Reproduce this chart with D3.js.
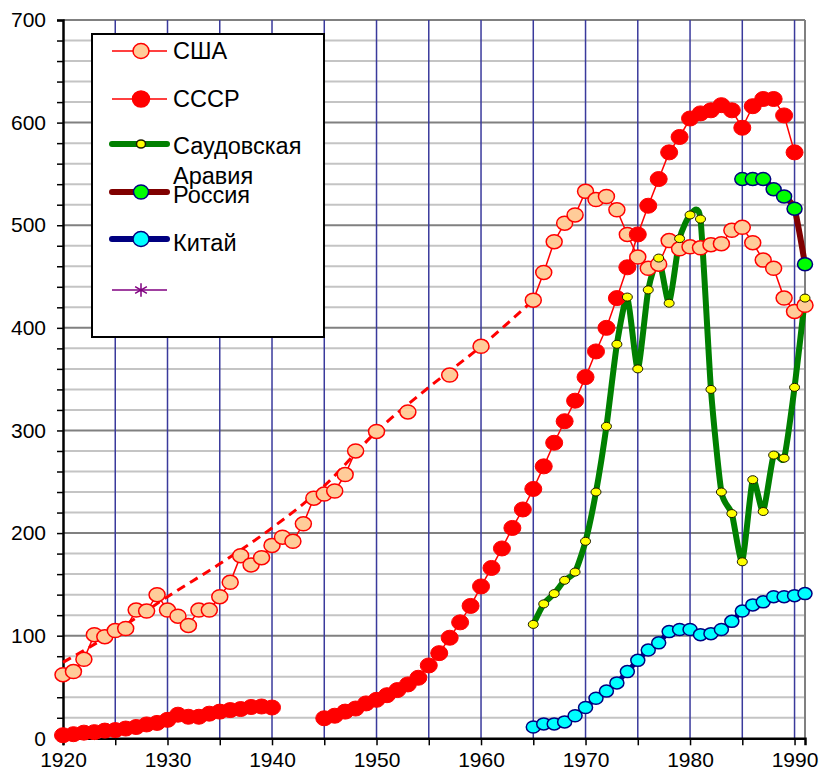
<!DOCTYPE html>
<html>
<head>
<meta charset="utf-8">
<script src="https://cdn.jsdelivr.net/npm/d3@7"></script>
<style>
  body { margin: 0; background: #fff; }
  svg text { font-family: "Liberation Sans", Arial, sans-serif; }
</style>
</head>
<body>
<div id="my_dataviz"></div>
<script>

// years on the x axis, one slot per year
var years = d3.range(1920, 1992);

var usaValues = [62, 65, 77, 101, 99, 105, 107, 125, 124, 140,
  125, 119, 110, 125, 125, 138, 152, 178, 169, 176,
  188, 196, 192, 209, 234, 238, 241, 257, 280, null,
  299, null, null, 318, null, null, null, 354, null, null,
  382, null, null, null, null, 427, 454, 484, 502, 510,
  533, 525, 528, 515, 491, 469, 458, 462, 485, 477,
  479, 478, 481, 482, 495, 498, 483, 466, 458, 429,
  416, 422];

var ussrValues = [3, 4, 5.5, 6, 7.5, 8, 9.5, 11, 13.5, 15,
  18, 23, 21, 21, 24, 26, 27.5, 28.5, 30.5, 31,
  30, null, null, null, null, 19.5, 22, 26, 29, 34,
  37.5, 42, 47, 52.5, 59, 71, 83, 98, 113, 129,
  148, 166, 185, 205, 223, 243, 265, 288, 309, 329,
  352, 377, 400, 429, 459, 491, 519, 545, 571, 586,
  604, 609, 612, 617, 612, 595, 616, 623, 623, 607,
  571, null];

var saudiYears = d3.range(1965, 1992);
var saudiValues = [111, 131, 141, 154, 162, 192, 240, 304, 384, 430,
  360, 437, 468, 424, 487, 510, 506, 340, 240, 219,
  172, 252, 221, 276, 273, 342, 429];

var chinaYears = d3.range(1965, 1992);
var chinaValues = [11, 14, 14, 16, 22, 30, 39, 46, 54, 65,
  76, 86, 93, 104, 106, 106, 101, 102, 106, 114,
  124, 130, 133, 138, 138, 139, 141];

var russiaYears = [1985, 1986, 1987, 1988, 1989, 1990, 1991];
var russiaValues = [545, 545, 545, 535, 528, 516, 462];

// dashed trend through the USA points
var trendYears = [1920, 1925, 1930, 1935, 1940, 1945, 1950, 1955, 1960, 1965];
var trendValues = [74, 104, 138, 170, 205, 246, 299, 342, 382, 427];

// small pink dashed piece near the bottom
var pinkYears = [1923, 1926];
var pinkValues = [0.5, 5.5];

var legendNames = ["США", "СССР", "Саудовская\nАравия", "Россия", "Китай", ""];
var xTickYears = [1920, 1930, 1940, 1950, 1960, 1970, 1980, 1990];
var yTickValues = [0, 100, 200, 300, 400, 500, 600, 700];

var width = 820, height = 776;
var plotLeft = 63, plotRight = 805, plotTop = 20, plotBottom = 738.3;

var svg = d3.select("#my_dataviz")
  .append("svg")
    .attr("width", width)
    .attr("height", height);

var x = d3.scaleLinear().domain([1920, 1991]).range([plotLeft, plotRight]);
var y = d3.scaleLinear().domain([0, 700]).range([plotBottom, plotTop]);

// horizontal grid, every 20
var grid = svg.append("g");
grid.selectAll("line.h")
  .data(d3.range(20, 701, 20))
  .enter()
  .append("line")
    .attr("x1", plotLeft).attr("x2", plotRight)
    .attr("y1", function(d) { return y(d); })
    .attr("y2", function(d) { return y(d); })
    .attr("stroke", function(d) { return d % 100 == 0 ? "#808080" : "#c4c4c4"; })
    .attr("stroke-width", 2);

// vertical grid, every 5 years
grid.selectAll("line.v")
  .data(d3.range(1925, 1991, 5))
  .enter()
  .append("line")
    .attr("x1", function(d) { return x(d); })
    .attr("x2", function(d) { return x(d); })
    .attr("y1", plotTop).attr("y2", plotBottom)
    .attr("stroke", "#3a3a9c")
    .attr("stroke-width", 1.5);

// right border
svg.append("line")
  .attr("x1", plotRight).attr("x2", plotRight).attr("y1", plotTop).attr("y2", plotBottom)
  .attr("stroke", "#808080").attr("stroke-width", 2);

// axes
var yAxis = svg.append("g")
  .attr("transform", "translate(" + plotLeft + ",0)")
  .call(d3.axisLeft(y).tickValues(d3.range(0, 701, 20)).tickSize(6)
    .tickFormat(function(d) { return yTickValues.indexOf(d) >= 0 ? d : ""; }));
yAxis.select(".domain").attr("stroke", "#000").attr("stroke-width", 2.5);
yAxis.selectAll(".tick line").attr("stroke", "#000").attr("stroke-width", 1.5);
yAxis.selectAll(".tick text")
  .attr("x", -17)
  .style("font-size", "21px")
  .attr("fill", "#000");

var xAxis = svg.append("g")
  .attr("transform", "translate(0," + plotBottom + ")")
  .call(d3.axisBottom(x).tickValues(d3.range(1920, 1991, 5)).tickSize(7)
    .tickFormat(function(d) { return xTickYears.indexOf(d) >= 0 ? d : ""; }));
xAxis.select(".domain").attr("stroke", "#000").attr("stroke-width", 2.5);
xAxis.selectAll(".tick line").attr("stroke", "#000").attr("stroke-width", 1.5);
xAxis.selectAll(".tick text")
  .attr("y", 14)
  .style("font-size", "21px")
  .attr("fill", "#000");

function pairs(xs, vs) {
  return xs.map(function(d, i) { return {year: d, value: vs[i]}; });
}

var straight = d3.line()
  .defined(function(d) { return d.value != null; })
  .x(function(d) { return x(d.year); })
  .y(function(d) { return y(d.value); });

// excel-like smoothed line, a bit tighter than catmull-rom
var smooth = d3.line()
  .curve(d3.curveCardinal.tension(0.4))
  .x(function(d) { return x(d.year); })
  .y(function(d) { return y(d.value); });

var usa = pairs(years, usaValues);
var ussr = pairs(years, ussrValues);
var saudi = pairs(saudiYears, saudiValues);
var china = pairs(chinaYears, chinaValues);
var russia = pairs(russiaYears, russiaValues);

// lines first
svg.append("path").datum(pairs(pinkYears, pinkValues))
  .attr("d", straight).attr("fill", "none")
  .attr("stroke", "#ff99cc").attr("stroke-width", 2.5).attr("stroke-dasharray", "7,4");

svg.append("path").datum(pairs(trendYears, trendValues))
  .attr("d", straight.curve(d3.curveMonotoneX)).attr("fill", "none")
  .attr("stroke", "#ff0000").attr("stroke-width", 3).attr("stroke-dasharray", "9,6");
straight.curve(d3.curveLinear);

svg.append("path").datum(usa)
  .attr("d", straight).attr("fill", "none")
  .attr("stroke", "#ff0000").attr("stroke-width", 1.5);

svg.append("path").datum(ussr)
  .attr("d", straight).attr("fill", "none")
  .attr("stroke", "#ff0000").attr("stroke-width", 1.5);

svg.append("path").datum(saudi)
  .attr("d", smooth).attr("fill", "none")
  .attr("stroke", "#008000").attr("stroke-width", 6).attr("stroke-linejoin", "round");

svg.append("path").datum(russia)
  .attr("d", smooth).attr("fill", "none")
  .attr("stroke", "#800000").attr("stroke-width", 6);

svg.append("path").datum(china)
  .attr("d", smooth).attr("fill", "none")
  .attr("stroke", "#000080").attr("stroke-width", 5);

// markers
function markers(data, rx, ry, fill, stroke, sw) {
  svg.append("g")
    .selectAll("ellipse")
    .data(data.filter(function(d) { return d.value != null; }))
    .enter()
    .append("ellipse")
      .attr("cx", function(d) { return x(d.year); })
      .attr("cy", function(d) { return y(d.value); })
      .attr("rx", rx).attr("ry", ry)
      .attr("fill", fill)
      .attr("stroke", stroke)
      .attr("stroke-width", sw);
}

markers(usa, 8, 7, "#ffcc99", "#ff0000", 1.5);
markers(ussr, 8.5, 7.5, "#ff0000", "#ff0000", 1);
markers(saudi, 5, 4, "#ffff00", "#1a1a00", 1);
markers(russia, 7.5, 6.5, "#00ff00", "#000080", 1.5);
markers(china, 7, 6, "#00ffff", "#000080", 1.5);

// legend
var legendStyles = [
  {line: "#ff0000", lw: 1.5, fill: "#ffcc99", stroke: "#ff0000", rx: 8, ry: 7.5, ly: 51},
  {line: "#ff0000", lw: 1.5, fill: "#ff0000", stroke: "#ff0000", rx: 8.5, ry: 8, ly: 99},
  {line: "#008000", lw: 6, fill: "#ffff00", stroke: "#1a1a00", rx: 4.5, ry: 4, ly: 144},
  {line: "#800000", lw: 6, fill: "#00ff00", stroke: "#000080", rx: 7.5, ry: 7, ly: 192},
  {line: "#000080", lw: 6, fill: "#00ffff", stroke: "#000080", rx: 8, ry: 7.5, ly: 239},
  {line: "#800080", lw: 1.5, fill: null, ly: 290}
];
var textBase = [59, 107, 154, 203, 251, 0];

var legend = svg.append("g");
legend.append("rect")
  .attr("x", 92).attr("y", 34).attr("width", 232).attr("height", 303)
  .attr("fill", "#fff").attr("stroke", "#000").attr("stroke-width", 2);

legendNames.forEach(function(name, i) {
  var s = legendStyles[i];
  legend.append("line")
    .attr("x1", 112).attr("x2", 167).attr("y1", s.ly).attr("y2", s.ly)
    .attr("stroke", s.line).attr("stroke-width", s.lw)
    .attr("stroke-linecap", s.lw > 3 ? "round" : "butt");
  if (s.fill) {
    legend.append("ellipse")
      .attr("cx", 141).attr("cy", s.ly).attr("rx", s.rx).attr("ry", s.ry)
      .attr("fill", s.fill).attr("stroke", s.stroke).attr("stroke-width", 1.5);
  } else {
    legend.append("path")
      .attr("transform", "translate(141," + s.ly + ")")
      .attr("d", d3.symbol().type(d3.symbolAsterisk).size(130))
      .attr("fill", "none").attr("stroke", s.line).attr("stroke-width", 1.5);
  }
  var lines = name.split("\n");
  lines.forEach(function(t, j) {
    legend.append("text")
      .attr("x", 173)
      .attr("y", textBase[i] + j * 29.5)
      .style("font-size", "23.5px")
      .attr("fill", "#000")
      .text(t);
  });
});

</script>
</body>
</html>
